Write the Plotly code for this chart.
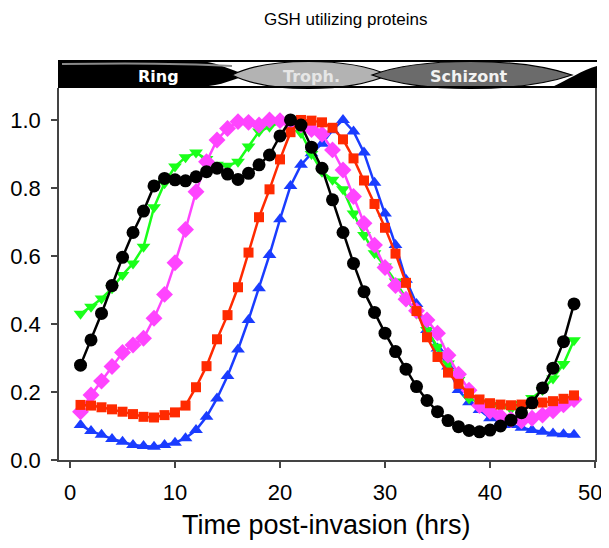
import plotly.graph_objects as go

hours = list(range(1, 49))

black_vals = [0.279, 0.353, 0.431, 0.513, 0.596, 0.669, 0.732, 0.806, 0.828, 0.824,
              0.821, 0.833, 0.848, 0.858, 0.841, 0.825, 0.843, 0.868, 0.897, 0.953,
              1.000, 0.985, 0.920, 0.858, 0.765, 0.669, 0.578, 0.495, 0.434, 0.373,
              0.319, 0.267, 0.216, 0.175, 0.142, 0.116, 0.098, 0.087, 0.083, 0.088,
              0.100, 0.117, 0.139, 0.168, 0.212, 0.270, 0.348, 0.459]

green_vals = [0.430, 0.451, 0.475, 0.505, 0.544, 0.578, 0.627, 0.743, 0.814, 0.863,
              0.890, 0.904, 0.885, 0.868, 0.865, 0.877, 0.922, 0.966, 0.980, 0.993,
              1.000, 0.962, 0.900, 0.848, 0.824, 0.796, 0.725, 0.662, 0.608, 0.569,
              0.525, 0.475, 0.431, 0.382, 0.333, 0.284, 0.235, 0.181, 0.170, 0.162,
              0.157, 0.150, 0.165, 0.182, 0.206, 0.240, 0.282, 0.352]

magenta_vals = [0.142, 0.191, 0.232, 0.275, 0.316, 0.338, 0.358, 0.417, 0.487, 0.580,
                0.678, 0.789, 0.877, 0.941, 0.975, 0.995, 0.993, 0.985, 1.000, 0.998,
                0.990, 0.985, 0.972, 0.958, 0.912, 0.853, 0.775, 0.696, 0.632, 0.566,
                0.513, 0.473, 0.439, 0.412, 0.373, 0.308, 0.252, 0.205, 0.160, 0.143,
                0.129, 0.119, 0.115, 0.123, 0.132, 0.145, 0.162, 0.178]

red_vals = [0.162, 0.160, 0.155, 0.149, 0.142, 0.135, 0.127, 0.125, 0.132, 0.140,
            0.160, 0.214, 0.276, 0.355, 0.426, 0.508, 0.610, 0.714, 0.796, 0.884,
            0.964, 1.000, 0.998, 0.993, 0.977, 0.943, 0.887, 0.822, 0.753, 0.683,
            0.607, 0.521, 0.438, 0.361, 0.303, 0.257, 0.224, 0.196, 0.178, 0.167,
            0.163, 0.161, 0.163, 0.166, 0.169, 0.173, 0.180, 0.190]

blue_vals = [0.103, 0.085, 0.074, 0.062, 0.054, 0.044, 0.041, 0.039, 0.044, 0.051,
             0.064, 0.088, 0.127, 0.181, 0.247, 0.325, 0.412, 0.505, 0.603, 0.708,
             0.806, 0.868, 0.902, 0.930, 0.970, 1.000, 0.966, 0.904, 0.815, 0.725,
             0.632, 0.530, 0.459, 0.382, 0.328, 0.275, 0.206, 0.170, 0.147, 0.123,
             0.113, 0.103, 0.095, 0.088, 0.083, 0.078, 0.076, 0.074]

x_ticks = [0, 10, 20, 30, 40, 50]
x_tick_labels = ["0", "10", "20", "30", "40", "50"]
y_ticks = [0.0, 0.2, 0.4, 0.6, 0.8, 1.0]
stage_labels = ["Ring", "Troph.", "Schizont"]

FONT = "Arial, Liberation Sans, sans-serif"
BANNER_FONT = "DejaVu Sans, Arial, sans-serif"

# the plot div sits 8px in from the page's top-left corner
OFF = 8
W, H = 609 - OFF, 548 - 2 * OFF
# target plot-area edges in page pixels
P_LEFT, P_RIGHT, P_TOP, P_BOTTOM = 59, 595, 88, 460
L = P_LEFT - OFF
R = W - (P_RIGHT - OFF)
T = P_TOP - OFF
B = H - (P_BOTTOM - OFF)

fig = go.Figure()

series = [
    ("blue", blue_vals, "#1a3cff", "triangle-up", 12),
    ("green", green_vals, "#1aff1a", "triangle-down", 12),
    ("magenta", magenta_vals, "#ff44ff", "diamond", 13),
    ("red", red_vals, "#ff2a00", "square", 10),
    ("black", black_vals, "#000000", "circle", 13),
]
for name, vals, col, sym, sz in series:
    fig.add_trace(go.Scatter(
        x=hours, y=vals, mode="lines+markers", name=name,
        line=dict(color=col, width=2.5),
        marker=dict(color=col, symbol=sym, size=sz, line=dict(width=0)),
        showlegend=False,
    ))

pw = P_RIGHT - P_LEFT
ph = P_BOTTOM - P_TOP


def px(x):
    return (x - P_LEFT) / pw


def py(y):
    return (P_BOTTOM - y) / ph


def path(cmds):
    out = []
    for c in cmds:
        if isinstance(c, str):
            out.append(c)
        else:
            out.append(f"{px(c[0]):.5f},{py(c[1]):.5f}")
    return " ".join(out)


shapes = []
top, bot, mid = 61, 87, 75
left_e, right_e = 58, 597
shapes.append(dict(type="rect", xref="paper", yref="paper",
                   x0=px(left_e), x1=px(right_e), y0=py(bot), y1=py(top),
                   fillcolor="white", line=dict(width=0), layer="above"))
shapes.append(dict(type="path", xref="paper", yref="paper", layer="above",
                   path=path(["M", (left_e, top), "L", (195, top), "C", (215, top), (228, 69), (247, mid),
                              "C", (228, 82), (215, bot), (195, bot), "L", (left_e, bot), "Z"]),
                   fillcolor="black", line=dict(width=0)))
shapes.append(dict(type="path", xref="paper", yref="paper", layer="above",
                   path=path(["M", (62, 64), "C", (120, 63), (180, 63), (232, 66)]),
                   line=dict(color="#8a8a8a", width=2)))
shapes.append(dict(type="path", xref="paper", yref="paper", layer="above",
                   path=path(["M", (232, mid), "C", (268, 57), (348, 57), (388, mid),
                              "C", (348, 93), (268, 93), (232, mid), "Z"]),
                   fillcolor="#b3b3b3", line=dict(color="black", width=1.2)))
shapes.append(dict(type="path", xref="paper", yref="paper", layer="above",
                   path=path(["M", (372, mid), "C", (420, 57), (520, 57), (572, mid),
                              "C", (520, 93), (420, 93), (372, mid), "Z"]),
                   fillcolor="#6b6b6b", line=dict(color="black", width=1.2)))
shapes.append(dict(type="path", xref="paper", yref="paper", layer="above",
                   path=path(["M", (552, bot), "C", (568, 80), (582, 70), (right_e, 66),
                              "L", (right_e, bot), "Z"]),
                   fillcolor="black", line=dict(width=0)))
shapes.append(dict(type="line", xref="paper", yref="paper", layer="above",
                   x0=px(left_e), x1=px(right_e), y0=py(top), y1=py(top),
                   line=dict(color="black", width=2)))
shapes.append(dict(type="line", xref="paper", yref="paper", layer="above",
                   x0=px(left_e), x1=px(right_e), y0=py(bot), y1=py(bot),
                   line=dict(color="black", width=2)))

annotations = []
for lab, cx, col in zip(stage_labels, [158, 311, 469], ["white", "#e6e6e6", "#f2f2f2"]):
    annotations.append(dict(text=f"<b>{lab}</b>", xref="paper", yref="paper",
                            x=px(cx), y=py(76), showarrow=False,
                            xanchor="center", yanchor="middle",
                            font=dict(family=BANNER_FONT, size=16, color=col)))
annotations.append(dict(text="GSH utilizing proteins", xref="paper", yref="paper",
                        x=px(345), y=py(20), showarrow=False,
                        xanchor="center", yanchor="middle",
                        font=dict(family=FONT, size=17, color="black")))
annotations.append(dict(text="Time post-invasion (hrs)", xref="paper", yref="paper",
                        x=px(326), y=py(525), showarrow=False,
                        xanchor="center", yanchor="middle",
                        font=dict(family=FONT, size=27, color="black")))
# last x tick label, nudged inward so it is not clipped at the page edge
annotations.append(dict(text=x_tick_labels[-1], xref="paper", yref="paper",
                        x=1.0, xshift=-5, y=py(493), showarrow=False,
                        xanchor="center", yanchor="middle",
                        font=dict(family=FONT, size=22, color="black")))

fig.update_layout(
    width=W, height=H,
    margin=dict(l=L, r=R, t=T, b=B, pad=0, autoexpand=False),
    paper_bgcolor="white", plot_bgcolor="white",
    shapes=shapes, annotations=annotations,
    font=dict(family=FONT, color="black"),
    xaxis=dict(range=[-1.05, 50], tickvals=x_ticks,
               ticktext=x_tick_labels[:-1] + [""],
               ticks="outside", ticklen=6,
               tickwidth=1.5, tickcolor="#444", showline=True, linecolor="#444",
               linewidth=1.5, showgrid=False, zeroline=False, ticklabelstandoff=6,
               tickfont=dict(family=FONT, size=22, color="black")),
    yaxis=dict(range=[0, 1.094], tickvals=y_ticks, tickformat=".1f", ticks="outside",
               ticklen=6, tickwidth=1.5, tickcolor="#444", showline=True,
               linecolor="#444", linewidth=1.5, mirror=True, showgrid=False,
               zeroline=False, ticklabelstandoff=6,
               tickfont=dict(family=FONT, size=22, color="black")),
)

fig.write_html("out.html")
